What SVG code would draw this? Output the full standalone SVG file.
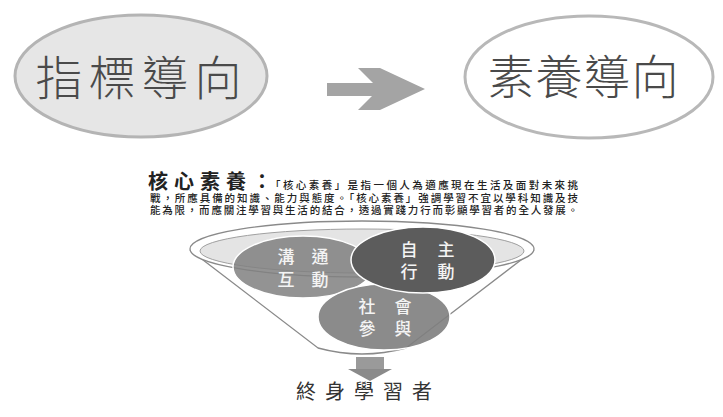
<svg xmlns="http://www.w3.org/2000/svg" width="723" height="417" viewBox="0 0 723 417">
<style>
text{font-family:"Noto Sans CJK TC","Noto Sans CJK SC",sans-serif}
.big{font-size:47px;fill:#4a4a4a;text-anchor:middle;font-weight:300}
.circ{font-size:17px;fill:#f4f4f4;text-anchor:middle;font-weight:500}
.small{font-size:10.5px;fill:#222;font-weight:500}
.arrow{fill:#a4a4a4}
</style>
<rect width="723" height="417" fill="#ffffff"/>
<g id="node-indicator">
<ellipse cx="141" cy="76" rx="126" ry="61" fill="#e6e6e6" stroke="#b4b4b4" stroke-width="3"/>
<text class="big" x="59 112 165 218" y="95">指標導向</text>
</g>
<g id="node-competency">
<ellipse cx="589" cy="77" rx="124" ry="61" fill="#ffffff" stroke="#b8b8b8" stroke-width="3"/>
<text class="big" x="511 559 607 655" y="94">素養導向</text>
</g>
<g id="connectors">
<rect class="arrow" x="327" y="83" width="58" height="13"/>
<polygon class="arrow" points="358,68 380,68 425,89 380,110 358,110 379,89"/>
<rect x="356" y="357" width="28" height="14" fill="#9a9a9a"/>
<polygon points="348,369 392,369 370,381" fill="#8a8a8a"/>
</g>
<g id="title">
<text x="148" y="189" style="font-size:20px;fill:#222;font-weight:700;letter-spacing:6px">核心素養：</text>
<text class="small" x="270" y="189" textLength="308" lengthAdjust="spacing">「核心素養」是指一個人為適應現在生活及面對未來挑</text>
<text class="small" x="150" y="201.5" textLength="428" lengthAdjust="spacing">戰，所應具備的知識、能力與態度。「核心素養」強調學習不宜以學科知識及技</text>
<text class="small" x="150" y="214" textLength="428" lengthAdjust="spacing">能為限，而應關注學習與生活的結合，透過實踐力行而彰顯學習者的全人發展。</text>
</g>
<g id="funnel">
<path d="M190,250 L318,348 Q362,360 406,348 L534,250" fill="#ffffff" stroke="#8a8a8a" stroke-width="1.3"/>
<ellipse cx="362" cy="249" rx="172" ry="28" fill="#ffffff" stroke="#8a8a8a" stroke-width="1.3"/>
<ellipse cx="362" cy="251" rx="162" ry="22" fill="#e4e4e4" stroke="#a0a0a0" stroke-width="1"/>
</g>
<g id="node-communication">
<ellipse cx="303" cy="267" rx="70" ry="31" fill="#808080" fill-opacity="0.85" stroke="#ffffff" stroke-width="1.5"/>
<text class="circ" x="286 320" y="263">溝通</text>
<text class="circ" x="286 320" y="286">互動</text>
</g>
<g id="node-social">
<ellipse cx="384" cy="317" rx="66" ry="33" fill="#7e7e7e" fill-opacity="0.9" stroke="#ffffff" stroke-width="1.5"/>
<text class="circ" x="367 403" y="313">社會</text>
<text class="circ" x="367 403" y="335">參與</text>
</g>
<g id="node-autonomy">
<ellipse cx="423" cy="260" rx="72" ry="33" fill="#5c5c5c" stroke="#ffffff" stroke-width="1.5"/>
<text class="circ" x="409 446" y="256">自主</text>
<text class="circ" x="409 446" y="278">行動</text>
</g>
<g id="node-lifelong">
<text x="306 335 364 393 422" y="399" style="font-size:20px;fill:#333;text-anchor:middle">終身學習者</text>
</g>
</svg>
